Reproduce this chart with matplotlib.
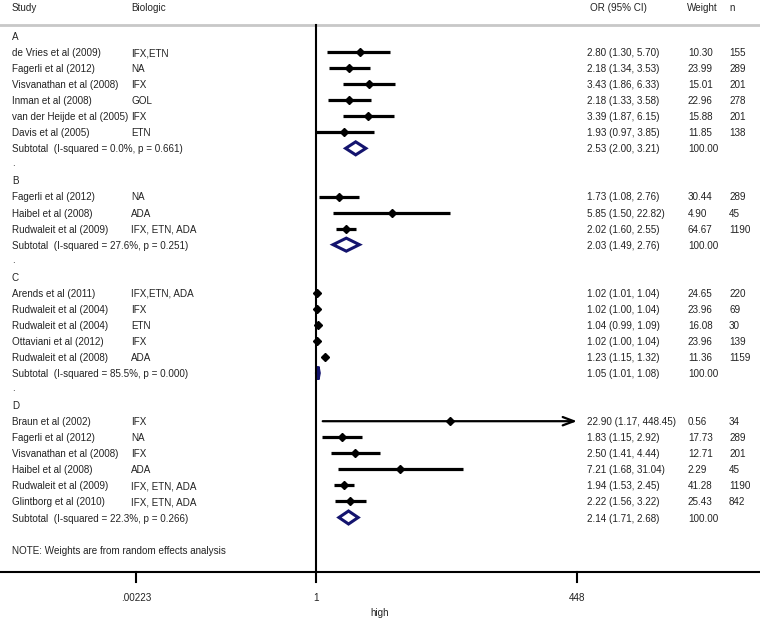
import numpy as np
import matplotlib
matplotlib.use("Agg")
import matplotlib.pyplot as plt
from matplotlib.patches import Polygon

plt.rcParams['font.family'] = ['Liberation Sans', 'DejaVu Sans']

# data
groups = ["A", "B", "C", "D"]
study = [
    ["de Vries et al (2009)", "Fagerli et al (2012)", "Visvanathan et al (2008)",
     "Inman et al (2008)", "van der Heijde et al (2005)", "Davis et al (2005)"],
    ["Fagerli et al (2012)", "Haibel et al (2008)", "Rudwaleit et al (2009)"],
    ["Arends et al (2011)", "Rudwaleit et al (2004)", "Rudwaleit et al (2004)",
     "Ottaviani et al (2012)", "Rudwaleit et al (2008)"],
    ["Braun et al (2002)", "Fagerli et al (2012)", "Visvanathan et al (2008)",
     "Haibel et al (2008)", "Rudwaleit et al (2009)", "Glintborg et al (2010)"],
]
biologic = [
    ["IFX,ETN", "NA", "IFX", "GOL", "IFX", "ETN"],
    ["NA", "ADA", "IFX, ETN, ADA"],
    ["IFX,ETN, ADA", "IFX", "ETN", "IFX", "ADA"],
    ["IFX", "NA", "IFX", "ADA", "IFX, ETN, ADA", "IFX, ETN, ADA"],
]
or_est = [[2.80, 2.18, 3.43, 2.18, 3.39, 1.93],
          [1.73, 5.85, 2.02],
          [1.02, 1.02, 1.04, 1.02, 1.23],
          [22.90, 1.83, 2.50, 7.21, 1.94, 2.22]]
ci_lo = [[1.30, 1.34, 1.86, 1.33, 1.87, 0.97],
         [1.08, 1.50, 1.60],
         [1.01, 1.00, 0.99, 1.00, 1.15],
         [1.17, 1.15, 1.41, 1.68, 1.53, 1.56]]
ci_hi = [[5.70, 3.53, 6.33, 3.58, 6.15, 3.85],
         [2.76, 22.82, 2.55],
         [1.04, 1.04, 1.09, 1.04, 1.32],
         [448.45, 2.92, 4.44, 31.04, 2.45, 3.22]]
weight = [[10.30, 23.99, 15.01, 22.96, 15.88, 11.85],
          [30.44, 4.90, 64.67],
          [24.65, 23.96, 16.08, 23.96, 11.36],
          [0.56, 17.73, 12.71, 2.29, 41.28, 25.43]]
n = [[155, 289, 201, 278, 201, 138],
     [289, 45, 1190],
     [220, 69, 30, 139, 1159],
     [34, 289, 201, 45, 1190, 842]]
sub_i2 = ["0.0%", "27.6%", "85.5%", "22.3%"]
sub_p = ["0.661", "0.251", "0.000", "0.266"]
sub_est = [2.53, 2.03, 1.05, 2.14]
sub_lo = [2.00, 1.49, 1.01, 1.71]
sub_hi = [3.21, 2.76, 1.08, 2.68]

tick_vals = [-4.21, 0.0, np.log(448)]
tick_labels = [".00223", "1", "448"]

W, H = 760, 618
fig = plt.figure(figsize=(W / 100, H / 100), dpi=100)
ax = fig.add_axes([0, 0, 1, 1])
scale = 42.75          # pixels per log unit
x0 = 316               # pixel position of OR = 1
ax.set_xlim(-x0 / scale, (W - x0) / scale)
ax.set_ylim(H, 0)
ax.axis("off")

navy = "#14146e"
txt = "#222222"
fs = 7.1
tr = ax.get_yaxis_transform()   # x in axes fraction, y in data


def col(px):
    return px / W


def put(px, y, s, **kw):
    ax.text(col(px), y, s, transform=tr, fontsize=fs, color=txt,
            va="center_baseline", **kw)


# header
put(12, 7, "Study")
put(131, 7, "Biologic")
put(590, 7, "OR (95% CI)")
put(687, 7, "Weight")
put(729, 7, "n")
ax.plot([0, 1], [25, 25], transform=tr, color="#c8c8c8", lw=2, clip_on=False)

y0, dy = 36, 16.05
row = 0
for g in range(len(groups)):
    put(12, y0 + row * dy, groups[g])
    row += 1
    for k in range(len(study[g])):
        y = y0 + row * dy
        put(12, y, study[g][k])
        put(131, y, biologic[g][k])
        put(587, y, f"{or_est[g][k]:.2f} ({ci_lo[g][k]:.2f}, {ci_hi[g][k]:.2f})")
        put(688, y, f"{weight[g][k]:.2f}")
        put(729, y, f"{n[g][k]}")
        lo, hi, est = np.log(ci_lo[g][k]), np.log(ci_hi[g][k]), np.log(or_est[g][k])
        if ci_hi[g][k] > 448:
            ax.annotate("", xy=(tick_vals[2], y), xytext=(lo, y),
                        arrowprops=dict(arrowstyle="->,head_length=0.8,head_width=0.3",
                                        lw=1.6, color="black", shrinkA=0, shrinkB=0))
        else:
            ax.plot([lo, hi], [y, y], color="black", lw=2.3, solid_capstyle="butt")
        ax.plot(est, y, marker="D", color="black", markersize=4.5)
        row += 1
    y = y0 + row * dy
    put(12, y, f"Subtotal  (I-squared = {sub_i2[g]}, p = {sub_p[g]})")
    put(587, y, f"{sub_est[g]:.2f} ({sub_lo[g]:.2f}, {sub_hi[g]:.2f})")
    put(688, y, "100.00")
    lo, hi, est = np.log(sub_lo[g]), np.log(sub_hi[g]), np.log(sub_est[g])
    hh = 6.5
    ax.add_patch(Polygon([(lo, y), (est, y - hh), (hi, y), (est, y + hh)],
                         closed=True, fill=False, edgecolor=navy, lw=2.2))
    row += 1
    if g < len(groups) - 1:
        put(12, y0 + row * dy - 2, ".")
        row += 1

row += 1
put(12, y0 + row * dy, "NOTE: Weights are from random effects analysis")

# axes lines
ax.plot([0, 1], [572, 572], transform=tr, color="black", lw=1.5, clip_on=False)
ax.plot([0, 0], [25, 572], color="black", lw=1.5)
for tv, tl in zip(tick_vals, tick_labels):
    ax.plot([tv, tv], [572, 582], color="black", lw=1.5)
    ax.text(tv, 597, tl, fontsize=fs, color=txt, ha="center", va="center_baseline")
ax.text(0.5 * (ax.get_xlim()[0] + ax.get_xlim()[1]), 612, "high",
        fontsize=fs, color=txt, ha="center", va="center_baseline")

fig.savefig("out.png", dpi=100)
